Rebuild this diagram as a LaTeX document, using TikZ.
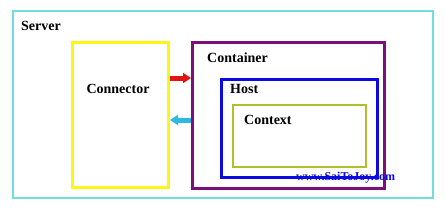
\documentclass[tikz,border=0pt]{standalone}
\usepackage{fontspec}
\setmainfont{Liberation Serif}
\usetikzlibrary{arrows.meta,positioning}

\definecolor{servercyan}{RGB}{110,222,222}
\definecolor{connyellow}{RGB}{255,245,20}
\definecolor{contpurple}{RGB}{125,15,125}
\definecolor{hostblue}{RGB}{10,10,225}
\definecolor{ctxolive}{RGB}{175,192,45}
\definecolor{reqred}{RGB}{225,20,20}
\definecolor{respcyan}{RGB}{45,185,230}

\begin{document}
\begin{tikzpicture}[
  x=1pt,y=-1pt,
  box/.style={draw,anchor=north west,inner sep=0pt},
  lbl/.style={anchor=west,inner sep=0pt,font=\fontsize{14}{16}\selectfont\bfseries},
  flow/.style={line width=5pt,-{Triangle[length=8pt,width=10pt]}}
]
  \useasboundingbox (0,0) rectangle (445,209);

  \node[box,draw=servercyan,line width=1.6pt,minimum width=420pt,minimum height=187pt] (server) at (12,10) {};
  \node[box,draw=connyellow,line width=3pt,minimum width=96pt,minimum height=145pt] (connector) at (71,41) {};
  \node[box,draw=contpurple,line width=3pt,minimum width=192pt,minimum height=146pt] (container) at (191,41) {};
  \node[box,draw=hostblue,line width=3pt,minimum width=156pt,minimum height=98pt] (host) at (220,78) {};
  \node[box,draw=ctxolive,line width=2pt,minimum width=133pt,minimum height=62pt] (context) at (232,104) {};

  % labels
  \node[lbl] (serverlbl) at (21,26) {Server};
  \node[lbl,anchor=center] (connectorlbl) at (118,89) {Connector};
  \node[lbl] (containerlbl) at (207,58) {Container};
  \node[lbl] (hostlbl) at (230,89) {Host};
  \node[lbl] (contextlbl) at (244,120) {Context};
  \node[anchor=west,inner sep=0pt,text=hostblue,font=\fontsize{12}{14}\selectfont\bfseries] (site) at (296,178) {www.SaiToJoy.com};

  \draw[flow,reqred] (connector.east |- 0,78) -- (container.west |- 0,78);
  \draw[flow,respcyan] (container.west |- 0,120) -- (connector.east |- 0,120);
\end{tikzpicture}
\end{document}
